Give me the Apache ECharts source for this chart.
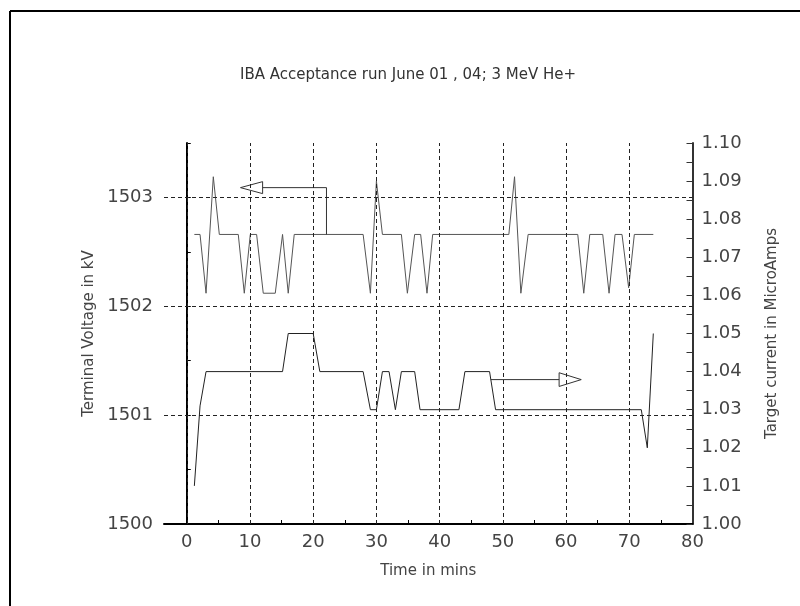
<!DOCTYPE html>
<html><head><meta charset="utf-8">
<script src="https://cdn.jsdelivr.net/npm/echarts@6/dist/echarts.min.js"></script>
<style>html,body{margin:0;padding:0;background:#fff}#c{width:800px;height:606px}</style>
</head><body><div id="c"></div>
<script>
// Terminal voltage (kV), left axis
const timeV = [1.2,2.1,3.05,4.2,5.15,8.15,9.1,10.05,11.05,12.1,14.0,15.15,16.05,17.0,27.9,29.05,30.0,30.95,33.95,34.9,36.05,37.0,38.0,38.9,50.95,51.85,52.85,54.0,61.85,62.8,63.75,65.8,66.8,67.75,68.85,69.9,70.8,73.8];
const voltage = [1502.66,1502.66,1502.12,1503.19,1502.66,1502.66,1502.12,1502.66,1502.66,1502.12,1502.12,1502.66,1502.12,1502.66,1502.66,1502.12,1503.15,1502.66,1502.66,1502.12,1502.66,1502.66,1502.12,1502.66,1502.66,1503.19,1502.12,1502.66,1502.66,1502.12,1502.66,1502.66,1502.12,1502.66,1502.66,1502.17,1502.66,1502.66];
// Target current (microamps), right axis
const timeI = [1.2,2.1,3.05,15.15,16.05,20.0,21.05,27.9,29.05,30.0,30.95,32.0,33.0,33.95,36.05,36.9,43.05,44.0,47.9,48.85,71.9,72.85,73.8];
const current = [1.010,1.031,1.040,1.040,1.050,1.050,1.040,1.040,1.030,1.030,1.040,1.040,1.030,1.040,1.040,1.030,1.030,1.040,1.040,1.030,1.030,1.020,1.050];
// Axis ticks / grid
const xLabels = [0,10,20,30,40,50,60,70,80];
const xMinorTicks = [5,15,25,35,45,55,65,75];
const xGrid = [0,10,20,30,40,50,60,70];
const yLeftLabels = [1500,1501,1502,1503];
const yLeftTicks = [1500.5,1501,1501.5,1502,1502.5,1503,1503.5];
const yLeftGrid = [1501,1502,1503];
// Arrow annotations (data coordinates)
const arrowLeftLine = [[22.1,1502.66],[22.1,1503.09],[12.0,1503.09]];
const arrowLeftHead = [[12.0,1503.145],[8.5,1503.09],[12.0,1503.035],[12.0,1503.145]];
const arrowRightLine = [[48.1,1.0379],[58.9,1.0379]];
const arrowRightHead = [[58.9,1.0397],[62.4,1.0379],[58.9,1.0361],[58.9,1.0397]];

const FONT = 'DejaVu Sans';
const TXT = '#444';
const chart = echarts.init(document.getElementById('c'), null, {renderer:'canvas'});
const dash = {color:'#222', width:1, type:[4,3]};
const thin = (c)=>({color:c, width:1});
chart.setOption({
  animation:false,
  backgroundColor:'#fff',
  title:{text:'IBA Acceptance run June 01 , 04; 3 MeV He+', left:403, top:63, textAlign:'center',
    textStyle:{fontFamily:FONT, fontWeight:'normal', fontSize:15, color:'#333'}},
  graphic:[
    {type:'line', shape:{x1:10,y1:11,x2:800,y2:11}, style:{stroke:'#000', lineWidth:2}},
    {type:'line', shape:{x1:10,y1:11,x2:10,y2:606}, style:{stroke:'#000', lineWidth:2}}
  ],
  grid:{left:164, right:107.5, top:143, bottom:82, containLabel:false},
  xAxis:{type:'value', min:-3.6, max:80,
    name:'Time in mins', nameLocation:'middle', nameGap:40,
    nameTextStyle:{fontFamily:FONT, fontSize:15, color:TXT},
    axisLine:{lineStyle:{color:'#000', width:2}},
    axisTick:{show:true, inside:true, length:4, customValues:xMinorTicks, lineStyle:{color:'#000'}},
    axisLabel:{customValues:xLabels, margin:9, fontFamily:FONT, fontSize:18, color:TXT},
    splitLine:{show:false}},
  yAxis:[
    {type:'value', min:1500, max:1503.5, position:'left',
     name:'Terminal Voltage in kV', nameLocation:'middle', nameGap:59, nameRotate:90,
     nameTextStyle:{fontFamily:FONT, fontSize:15, color:TXT},
     axisLine:{show:true, lineStyle:{color:'#000', width:2}},
     axisTick:{show:true, inside:true, length:4, customValues:yLeftTicks, lineStyle:{color:'#000'}},
     axisLabel:{customValues:yLeftLabels, margin:11, fontFamily:FONT, fontSize:18, color:TXT, formatter:v=>String(v)},
     splitLine:{show:false}},
    {type:'value', min:1.00, max:1.10, interval:0.01, position:'right',
     name:'Target current in MicroAmps', nameLocation:'middle', nameGap:72, nameRotate:90,
     nameTextStyle:{fontFamily:FONT, fontSize:15, color:TXT},
     axisLine:{show:true, lineStyle:{color:'#333', width:2}},
     axisTick:{show:true, inside:true, length:6, lineStyle:{color:'#333'}},
     minorTick:{show:true, splitNumber:2, length:6, lineStyle:{color:'#333'}},
     axisLabel:{margin:9, fontFamily:FONT, fontSize:18, color:TXT, formatter:v=>v.toFixed(2)},
     splitLine:{show:false}}
  ],
  series:[
    {type:'line', yAxisIndex:0, data:[], silent:true,
     markLine:{silent:true, symbol:'none', label:{show:false}, lineStyle:dash,
       data: xGrid.map(v=>({xAxis:v})).concat(yLeftGrid.map(v=>({yAxis:v})))}},
    {type:'line', yAxisIndex:0, data:timeV.map((t,i)=>[t,voltage[i]]), symbol:'none', lineStyle:thin('#555'), z:3},
    {type:'line', yAxisIndex:1, data:timeI.map((t,i)=>[t,current[i]]), symbol:'none', lineStyle:thin('#222'), z:3},
    {type:'line', yAxisIndex:0, data:arrowLeftLine, symbol:'none', lineStyle:thin('#333')},
    {type:'line', yAxisIndex:0, data:arrowLeftHead, symbol:'none', lineStyle:thin('#333')},
    {type:'line', yAxisIndex:1, data:arrowRightLine, symbol:'none', lineStyle:thin('#333')},
    {type:'line', yAxisIndex:1, data:arrowRightHead, symbol:'none', lineStyle:thin('#333')}
  ]
});
</script></body></html>
